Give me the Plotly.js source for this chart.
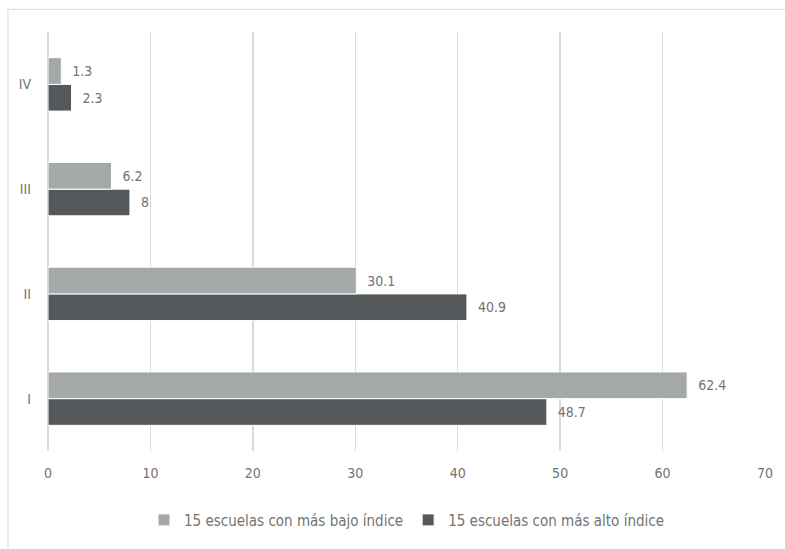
<!DOCTYPE html>
<html>
<head>
<meta charset="utf-8">
<script src="https://cdn.plot.ly/plotly-3.0.1.min.js"></script>
<style>
html,body{margin:0;padding:0;background:#fff;}
#chart{width:785px;height:549px;}
</style>
</head>
<body>
<div id="chart"></div>
<script>
const categories = ['I', 'II', 'III', 'IV'];
const seriesLowName = '15 escuelas con más bajo índice';
const seriesHighName = '15 escuelas con más alto índice';
const lowValues = [62.4, 30.1, 6.2, 1.3];
const highValues = [48.7, 40.9, 8, 2.3];
const xTicks = [0, 10, 20, 30, 40, 50, 60, 70];

const FONT = '"DejaVu Sans Condensed", "DejaVu Sans", sans-serif';
const TXT = '#737373';
const PAD = '\u00a0\u00a0';

const traces = [
  {
    type: 'bar', orientation: 'h', name: seriesHighName,
    y: categories, x: highValues,
    text: highValues.map(v => PAD + v), textposition: 'outside',
    textfont: {family: FONT, size: 14, color: TXT},
    marker: {color: '#54585a', line: {color: '#ffffff', width: 1}},
    cliponaxis: false, hoverinfo: 'none'
  },
  {
    type: 'bar', orientation: 'h', name: seriesLowName,
    y: categories, x: lowValues,
    text: lowValues.map(v => PAD + v), textposition: 'outside',
    textfont: {family: FONT, size: 14, color: TXT},
    marker: {color: '#a5a8a8', line: {color: '#ffffff', width: 1}},
    cliponaxis: false, hoverinfo: 'none'
  }
];

const layout = {
  width: 785, height: 549,
  margin: {l: 48, r: 20, t: 32, b: 92},
  paper_bgcolor: '#ffffff', plot_bgcolor: '#ffffff',
  font: {family: FONT, size: 14, color: TXT},
  barmode: 'group',
  bargap: 0.49, bargroupgap: 0,
  showlegend: true,
  legend: {
    orientation: 'h', x: 0.5, xanchor: 'center', y: -0.165, yanchor: 'middle',
    traceorder: 'reversed',
    font: {family: FONT, size: 15, color: TXT},
    itemwidth: 30
  },
  xaxis: {
    range: [0, 70], tickvals: xTicks, ticktext: xTicks.map(String),
    showgrid: true, gridcolor: '#d9d9d9', gridwidth: 1.5,
    zeroline: true, zerolinecolor: '#d9d9d9', zerolinewidth: 1.5,
    showline: false, ticks: '', ticklabelstandoff: 12,
    tickfont: {family: FONT, size: 14, color: TXT}, fixedrange: true
  },
  yaxis: {
    type: 'category', categoryorder: 'array', categoryarray: categories,
    showgrid: false, zeroline: false, showline: false, ticks: '',
    ticklabelstandoff: 16,
    tickfont: {family: FONT, size: 14, color: TXT}, fixedrange: true
  },
  shapes: [{
    type: 'rect', xref: 'paper', yref: 'paper',
    x0: -0.0558, x1: 1.2, y0: -0.4, y1: 1.054,
    line: {color: '#d9d9d9', width: 1}, fillcolor: 'rgba(0,0,0,0)', layer: 'below'
  }]
};

Plotly.newPlot('chart', traces, layout, {displayModeBar: false, staticPlot: true});
</script>
</body>
</html>
